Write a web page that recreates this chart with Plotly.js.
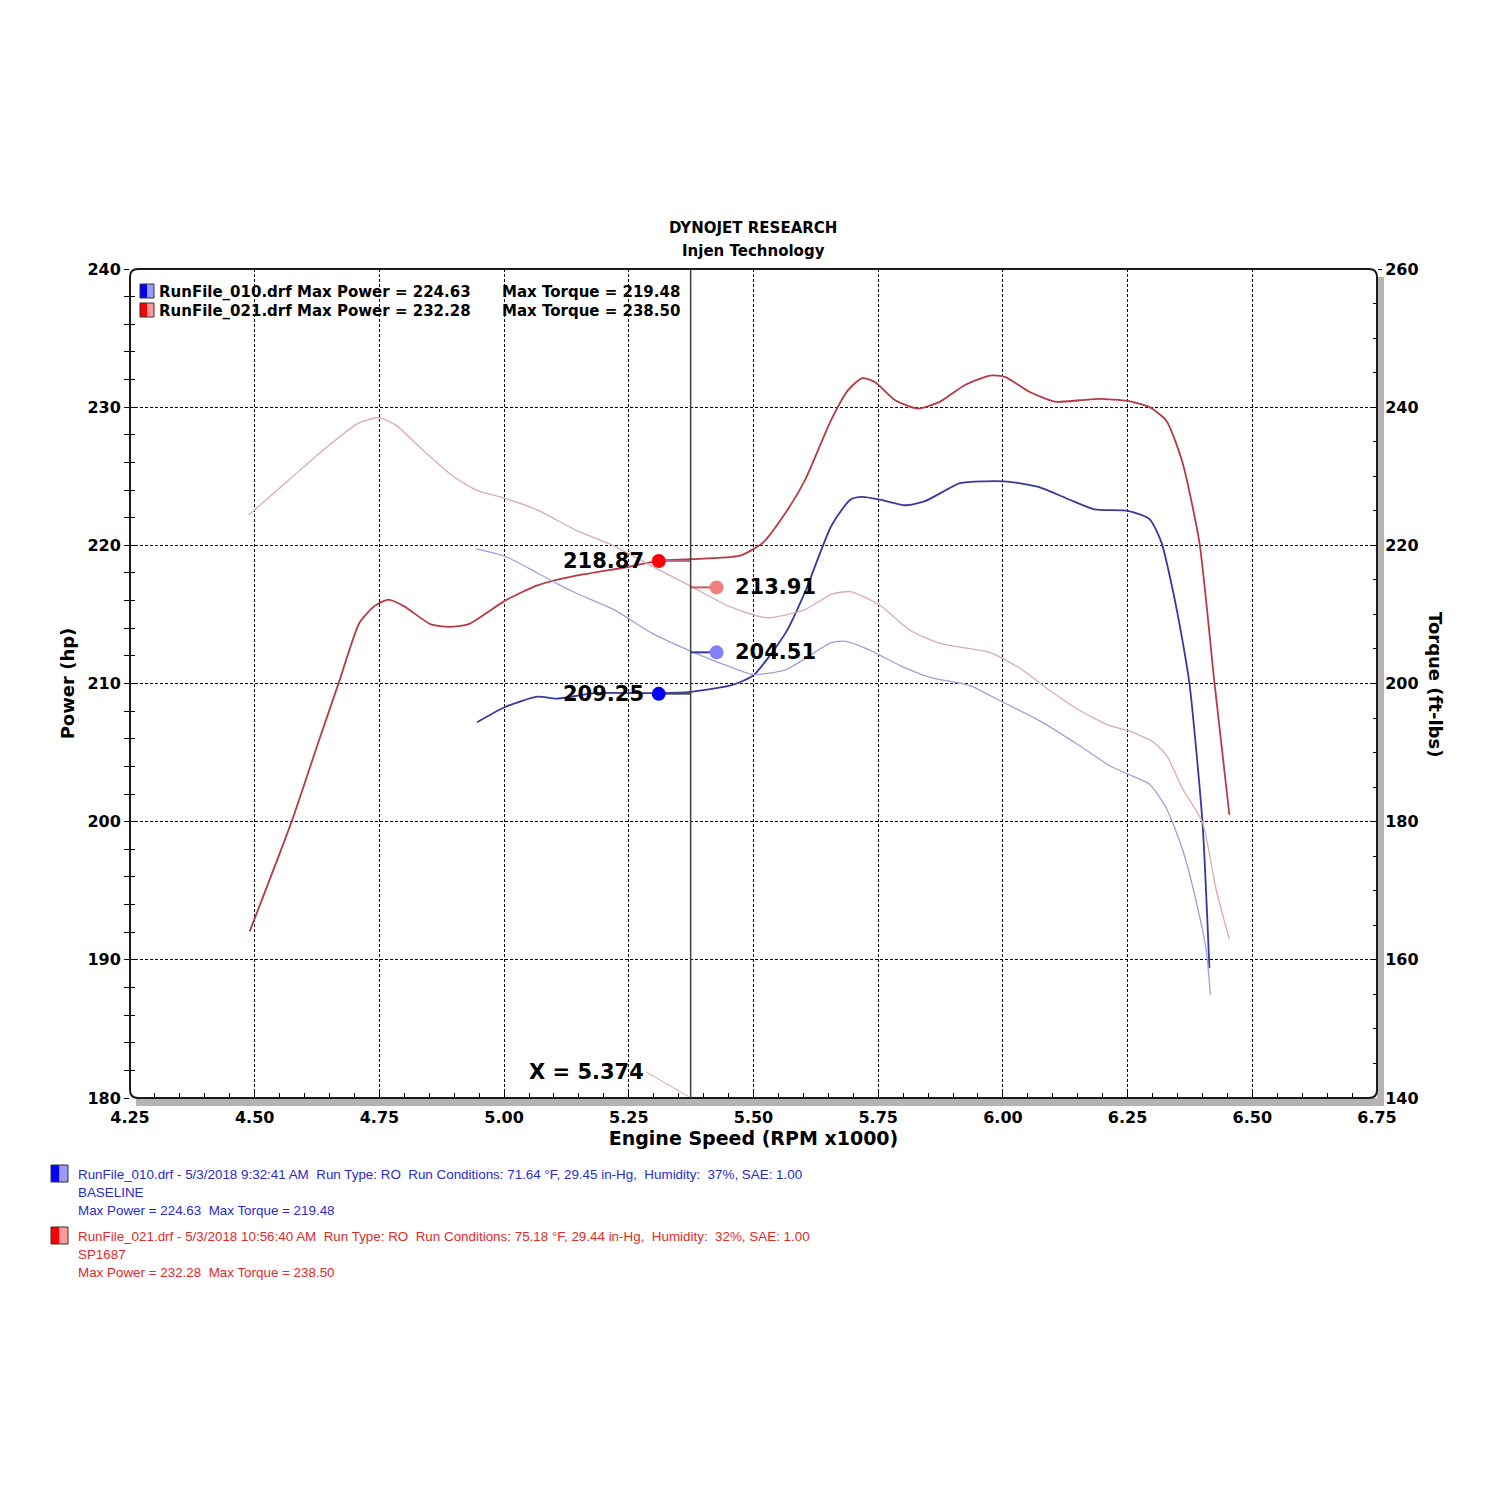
<!DOCTYPE html>
<html><head><meta charset="utf-8">
<script src="https://cdn.plot.ly/plotly-3.0.1.min.js"></script>
<style>html,body{margin:0;padding:0;background:#fff}#chart{width:1500px;height:1500px}</style>
</head><body><div id="chart"></div>
<script>
// ---- Data ----
const sp1687PowerRpm = [4.49,4.574,4.63,4.669,4.71,4.74,4.768,4.799,4.852,4.89,4.929,5.002,5.067,5.144,5.25,5.312,5.374,5.473,5.519,5.565,5.603,5.656,5.69,5.718,5.744,5.784,5.83,5.874,5.924,5.974,6.004,6.054,6.104,6.154,6.194,6.25,6.294,6.328,6.36,6.394,6.424,6.454];
const sp1687PowerHp  = [192.06,200.0,206.0,210.1,214.4,215.6,216.07,215.6,214.3,214.1,214.3,216.0,217.1,217.8,218.45,218.9,219.0,219.25,220.2,222.4,224.7,229.1,231.25,232.1,231.8,230.5,229.9,230.4,231.6,232.28,232.2,231.1,230.4,230.5,230.6,230.45,230.0,229.0,226.0,220.2,210.1,200.5];

const basePowerRpm = [4.946,5.002,5.067,5.105,5.182,5.312,5.374,5.458,5.5,5.565,5.603,5.656,5.694,5.718,5.754,5.804,5.844,5.914,5.964,6.014,6.074,6.134,6.184,6.25,6.294,6.318,6.338,6.354,6.374,6.4,6.414];
const basePowerHp  = [207.2,208.3,209.05,208.9,209.3,209.3,209.4,209.9,210.6,213.7,216.6,221.4,223.3,223.5,223.3,222.9,223.2,224.5,224.63,224.6,224.2,223.3,222.6,222.5,221.9,220.2,217.2,214.3,210.0,200.0,189.4];

const sp1687TorqueRpm = [4.488,4.569,4.646,4.707,4.749,4.783,4.837,4.898,4.944,5.002,5.067,5.144,5.22,5.296,5.374,5.45,5.527,5.603,5.656,5.694,5.754,5.814,5.874,5.974,6.034,6.094,6.154,6.214,6.25,6.3,6.328,6.36,6.4,6.428,6.454];
const sp1687TorqueFt  = [224.4,229.5,234.3,237.65,238.5,237.4,233.8,230.0,228.0,226.8,225.1,222.2,219.9,217.0,214.1,211.2,209.5,210.7,212.9,213.3,211.3,207.7,205.8,204.5,202.2,199.0,196.1,193.9,193.2,191.6,189.6,184.8,179.9,170.0,163.0];

const baseTorqueRpm = [4.944,5.002,5.067,5.105,5.144,5.22,5.296,5.374,5.45,5.5,5.565,5.656,5.684,5.734,5.794,5.854,5.934,5.994,6.074,6.154,6.214,6.25,6.294,6.328,6.36,6.388,6.408,6.416];
const baseTorqueFt  = [219.48,218.4,216.0,214.5,213.1,210.7,207.3,204.7,202.5,201.3,202.0,205.9,206.1,204.8,202.6,200.9,199.7,197.5,194.6,191.0,188.1,186.9,185.4,181.9,176.0,168.3,161.2,154.9];

const cursorX = 5.374;
const readLeftX = 5.31, readRightX = 5.426;
const readSpPower = 218.87, readSpTorque = 213.91, readBasePower = 209.25, readBaseTorque = 204.51;

const xTicks = [4.25,4.50,4.75,5.00,5.25,5.50,5.75,6.00,6.25,6.50,6.75];
const run1Info = ["RunFile_010.drf - 5/3/2018 9:32:41 AM  Run Type: RO  Run Conditions: 71.64 °F, 29.45 in-Hg,  Humidity:  37%, SAE: 1.00","BASELINE","Max Power = 224.63  Max Torque = 219.48"];
const run2Info = ["RunFile_021.drf - 5/3/2018 10:56:40 AM  Run Type: RO  Run Conditions: 75.18 °F, 29.44 in-Hg,  Humidity:  32%, SAE: 1.00","SP1687","Max Power = 232.28  Max Torque = 238.50"];
const topLegend = [["RunFile_010.drf Max Power = 224.63","Max Torque = 219.48"],["RunFile_021.drf Max Power = 232.28","Max Torque = 238.50"]];

// ---- geometry helpers (pixel -> paper) ----
const L=130,R=1377,T=269,B=1098;
const px = x => (x-L)/(R-L);
const py = y => (B-y)/(B-T);

const FONT = "DejaVu Sans, Verdana, sans-serif";
const SANS = "Liberation Sans, Arial, sans-serif";

const cRedPow='#b83a44', cBluePow='#38389e', cPinkTq='#dcaab2', cBlueTq='#a0a0dc';

const traces = [
  {x:sp1687TorqueRpm,y:sp1687TorqueFt,yaxis:'y2',mode:'lines',line:{color:cPinkTq,width:1.3,shape:'spline',smoothing:0.6},name:'SP1687 Torque'},
  {x:baseTorqueRpm,y:baseTorqueFt,yaxis:'y2',mode:'lines',line:{color:cBlueTq,width:1.3,shape:'spline',smoothing:0.6},name:'Baseline Torque'},
  {x:sp1687PowerRpm,y:sp1687PowerHp,mode:'lines',line:{color:cRedPow,width:1.8,shape:'spline',smoothing:0.6},name:'SP1687 Power'},
  {x:basePowerRpm,y:basePowerHp,mode:'lines',line:{color:cBluePow,width:1.8,shape:'spline',smoothing:0.6},name:'Baseline Power'},
  // reading connectors
  {x:[cursorX,readLeftX],y:[readSpPower,readSpPower],mode:'lines',line:{color:'#c06a8a',width:2},hoverinfo:'skip'},
  {x:[cursorX,readLeftX],y:[readBasePower,readBasePower],mode:'lines',line:{color:'#505050',width:2},hoverinfo:'skip'},
  {x:[cursorX,readRightX],y:[readSpTorque,readSpTorque],yaxis:'y2',mode:'lines',line:{color:'#d05858',width:2},hoverinfo:'skip'},
  {x:[cursorX,readRightX],y:[readBaseTorque,readBaseTorque],yaxis:'y2',mode:'lines',line:{color:'#3838a8',width:2},hoverinfo:'skip'},
  {x:[readLeftX],y:[readSpPower],mode:'markers',marker:{color:'#ff0000',size:14}},
  {x:[readLeftX],y:[readBasePower],mode:'markers',marker:{color:'#0000ff',size:14}},
  {x:[readRightX],y:[readSpTorque],yaxis:'y2',mode:'markers',marker:{color:'#f08080',size:14}},
  {x:[readRightX],y:[readBaseTorque],yaxis:'y2',mode:'markers',marker:{color:'#8080ff',size:14}},
  {x:[null],y:[null],yaxis:'y3',mode:'lines',hoverinfo:'skip'},
  {x:[null],y:[null],yaxis:'y4',mode:'lines',hoverinfo:'skip'}
];

const tickFont = {family:FONT,size:16,weight:'bold',color:'#000'};
const gridCommon = {gridcolor:'#000',gridwidth:1,griddash:'3px,2px'};

const shapes = [];
// drop shadow (right & bottom)
shapes.push({type:'rect',xref:'paper',yref:'paper',x0:px(R),x1:px(R+7),y0:py(B+8),y1:py(T+8),fillcolor:'#b4b4b4',line:{width:0}});
shapes.push({type:'rect',xref:'paper',yref:'paper',x0:px(L+6),x1:px(R+7),y0:py(B+8),y1:py(B),fillcolor:'#b4b4b4',line:{width:0}});
// rounded frame
const r=8;
const P=(x,y)=>px(x)+','+py(y);
shapes.push({type:'path',xref:'paper',yref:'paper',
  path:`M${P(L+r,T)} L${P(R-r,T)} Q${P(R,T)} ${P(R,T+r)} L${P(R,B-r)} Q${P(R,B)} ${P(R-r,B)} L${P(L+r,B)} Q${P(L,B)} ${P(L,B-r)} L${P(L,T+r)} Q${P(L,T)} ${P(L+r,T)} Z`,
  line:{color:'#1a1a1a',width:2}});
// cursor
shapes.push({type:'line',xref:'x',yref:'paper',x0:cursorX,x1:cursorX,y0:0,y1:1,line:{color:'#404040',width:1.5}});
// leader from X label
shapes.push({type:'line',xref:'x',yref:'y',x0:5.284,y0:181.9,x1:cursorX-0.004,y1:180.1,line:{color:'#e0a0a8',width:1}});
// legend icons
function icon(x,y,w,h,dark,light){
  shapes.push({type:'rect',xref:'paper',yref:'paper',x0:px(x),x1:px(x+w/2),y0:py(y+h),y1:py(y),fillcolor:dark,line:{width:0}});
  shapes.push({type:'rect',xref:'paper',yref:'paper',x0:px(x+w/2),x1:px(x+w),y0:py(y+h),y1:py(y),fillcolor:light,line:{width:0}});
  shapes.push({type:'rect',xref:'paper',yref:'paper',x0:px(x),x1:px(x+w),y0:py(y+h),y1:py(y),line:{color:'#333',width:1}});
}
icon(140,284,14,14,'#0000ff','#9a9aff');
icon(140,303,14,14,'#ff0000','#ff9a9a');
icon(51,1165,17,17,'#0000ff','#9a9aff');
icon(51,1227,17,17,'#ff0000','#ff9a9a');

const ann = [];
function A(text,x,y,opts){ann.push(Object.assign({text:text,xref:'paper',yref:'paper',x:px(x),y:py(y),showarrow:false,xanchor:'left',yanchor:'middle',font:{family:FONT,size:15,weight:'bold',color:'#000'}},opts||{}));}
A('DYNOJET RESEARCH',753,228,{xanchor:'center'});
A('Injen Technology',753,251,{xanchor:'center'});
A(topLegend[0][0],157,292); A(topLegend[0][1],500,292);
A(topLegend[1][0],157,311); A(topLegend[1][1],500,311);
A('Torque (ft-lbs)',1436,684,{xanchor:'center',textangle:90,font:{family:FONT,size:18,weight:'bold',color:'#000'}});
const blue='#2a2ad0', red='#e02a2a';
run1Info.forEach((t,i)=>A(t,76,1174+i*18,{font:{family:SANS,size:13.4,color:blue}}));
run2Info.forEach((t,i)=>A(t,76,1236+i*18,{font:{family:SANS,size:13.4,color:red}}));
// readings
const bigFont={family:FONT,size:21,weight:'bold',color:'#000'};
ann.push({text:readSpPower.toFixed(2),x:readLeftX,y:readSpPower,xref:'x',yref:'y',showarrow:false,xanchor:'right',yanchor:'middle',xshift:-13,font:bigFont});
ann.push({text:readBasePower.toFixed(2),x:readLeftX,y:readBasePower,xref:'x',yref:'y',showarrow:false,xanchor:'right',yanchor:'middle',xshift:-13,font:bigFont});
ann.push({text:readSpTorque.toFixed(2),x:readRightX,y:readSpTorque,xref:'x',yref:'y2',showarrow:false,xanchor:'left',yanchor:'middle',xshift:16,font:bigFont});
ann.push({text:readBaseTorque.toFixed(2),x:readRightX,y:readBaseTorque,xref:'x',yref:'y2',showarrow:false,xanchor:'left',yanchor:'middle',xshift:16,font:bigFont});
ann.push({text:'X = '+cursorX.toFixed(3),x:5.284,y:181.9,xref:'x',yref:'y',showarrow:false,xanchor:'right',yanchor:'middle',font:bigFont});

const layout = {
  width:1500,height:1500,
  margin:{l:L,r:1500-R,t:T,b:1500-B},
  paper_bgcolor:'#fff',plot_bgcolor:'#fff',
  showlegend:false,
  font:{family:FONT,color:'#000'},
  xaxis:Object.assign({range:[4.25,6.75],tickvals:xTicks,ticktext:xTicks.map(v=>v.toFixed(2)),
    ticks:'inside',ticklen:6,tickcolor:'#000',showline:false,zeroline:false,showgrid:true,
    minor:{dtick:0.05,tick0:4.25,ticks:'inside',ticklen:5,tickcolor:'#000',showgrid:false},
    tickfont:tickFont,automargin:false,ticklabelstandoff:8,
    title:{text:'Engine Speed (RPM x1000)',font:{family:FONT,size:19,weight:'bold',color:'#000'},standoff:0}},gridCommon),
  yaxis:Object.assign({range:[180,240],dtick:10,tick0:180,ticks:'outside',ticklen:5,tickcolor:'#000',
    minor:{dtick:2,ticks:'outside',ticklen:5,tickcolor:'#000',showgrid:false},
    showline:false,zeroline:false,showgrid:true,tickfont:tickFont,automargin:false,
    title:{text:'Power (hp)',font:{family:FONT,size:18,weight:'bold',color:'#000'},standoff:8}},gridCommon),
  yaxis2:{range:[140,260],dtick:20,tick0:140,overlaying:'y',side:'right',ticks:'outside',ticklen:4,tickcolor:'#000',
    minor:{dtick:5,ticks:'outside',ticklen:4,tickcolor:'#000',showgrid:false},
    showgrid:false,zeroline:false,showline:false,tickfont:tickFont,automargin:false},
  yaxis3:{range:[180,240],dtick:10,tick0:180,overlaying:'y',side:'left',ticks:'inside',ticklen:5,tickcolor:'#000',
    minor:{dtick:2,ticks:'inside',ticklen:5,tickcolor:'#000',showgrid:false},
    showticklabels:false,showgrid:false,zeroline:false,showline:false},
  yaxis4:{range:[140,260],dtick:20,tick0:140,overlaying:'y',side:'right',ticks:'inside',ticklen:4,tickcolor:'#000',
    minor:{dtick:5,ticks:'inside',ticklen:4,tickcolor:'#000',showgrid:false},
    showticklabels:false,showgrid:false,zeroline:false,showline:false},
  shapes:shapes,
  annotations:ann
};
Plotly.newPlot('chart',traces,layout,{staticPlot:true,displayModeBar:false});
</script></body></html>
